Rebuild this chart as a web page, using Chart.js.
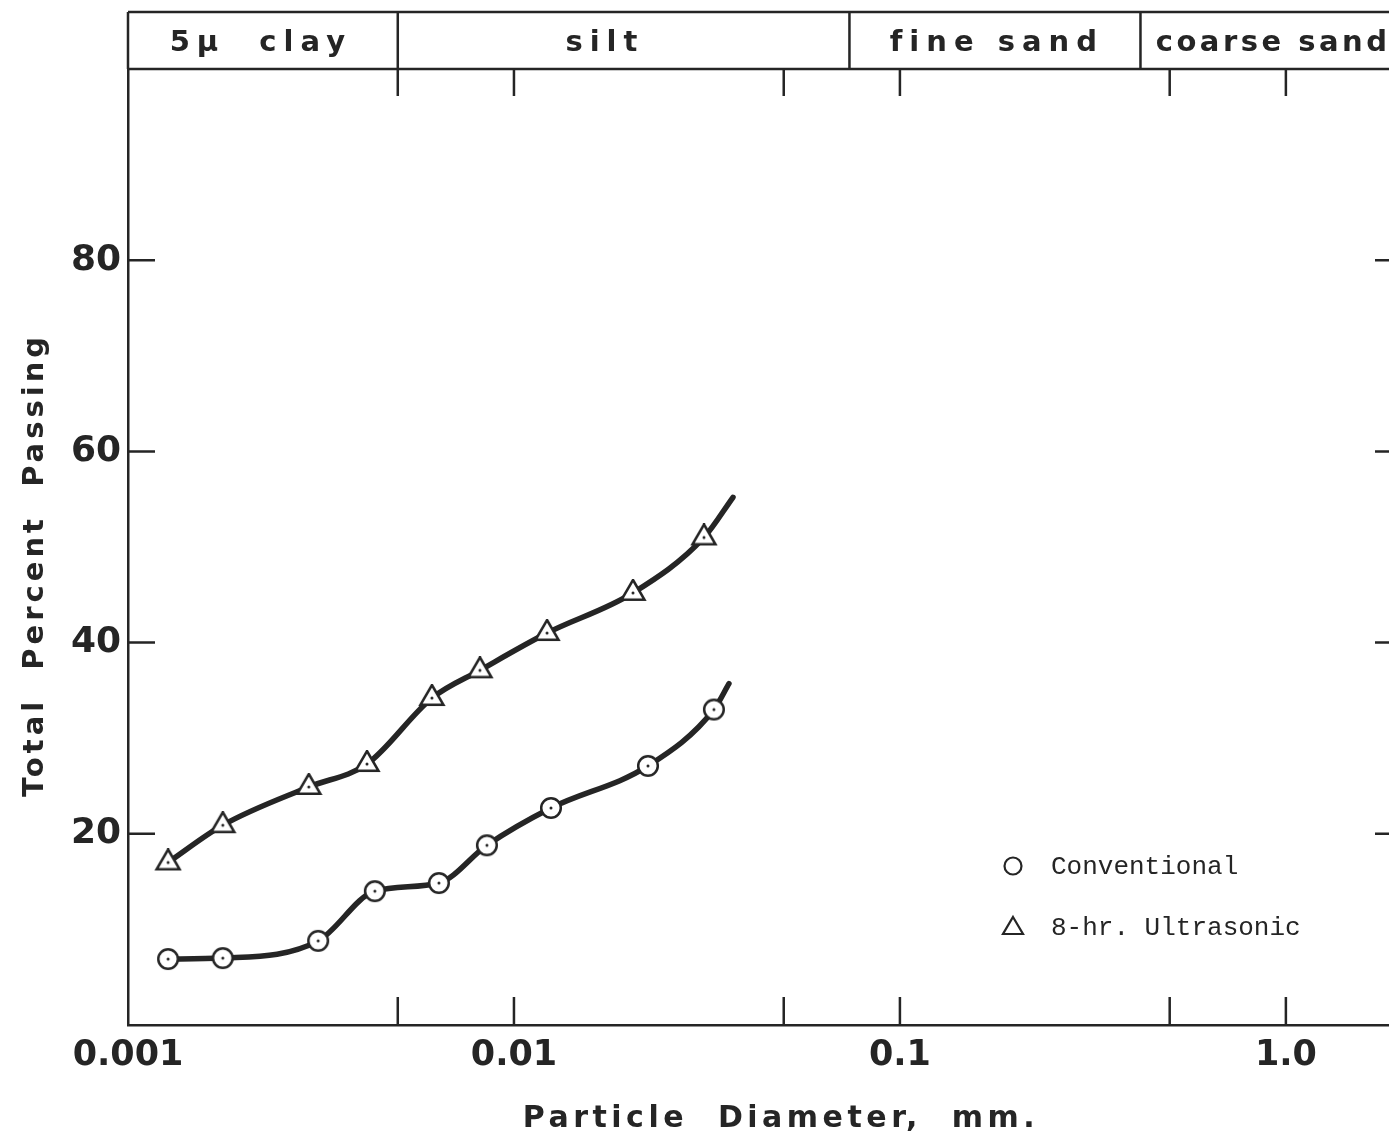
<!DOCTYPE html>
<html>
<head>
<meta charset="utf-8">
<script src="https://cdn.jsdelivr.net/npm/chart.js@4.4.1/dist/chart.umd.min.js"></script>
<style>
  html, body { margin: 0; padding: 0; background: #fff; }
  #wrap { width: 1389px; height: 1137px; }
</style>
</head>
<body>
<div id="wrap"><canvas id="grainChart" width="1389" height="1137"></canvas></div>
<script>
// particle diameter (mm) vs total percent passing
// last entry of each series is where the drawn line ends (no test point there)
const convDiameter = [0.00127, 0.00176, 0.00311, 0.00436, 0.00639, 0.00851, 0.01247, 0.02224, 0.03297, 0.03606]
const convPassing = [6.9, 7.0, 8.8, 14.0, 14.85, 18.8, 22.7, 27.1, 33.0, 35.7]
const ultraDiameter = [0.00127, 0.00176, 0.00294, 0.00416, 0.00613, 0.00816, 0.01218, 0.02034, 0.03107, 0.03694]
const ultraPassing = [17.0, 20.9, 24.9, 27.3, 34.2, 37.1, 41.0, 45.2, 51.0, 55.2]

const seriesNames = ['Conventional', '8-hr. Ultrasonic']

const xTickValues = [0.001, 0.01, 0.1, 1]
const xTickLabels = ['0.001', '0.01', '0.1', '1.0']
const xMarkValues = [0.005, 0.01, 0.05, 0.1, 0.5, 1]
const yTickValues = [20, 40, 60, 80]

// size classes across the top (limits in mm)
const bandLimits = [0.005, 0.074, 0.42]
const bandNames = ['5\u03bc  clay', 'silt', 'fine sand', 'coarse sand']

const ink = '#252525'
const boldFont = '"DejaVu Sans", Verdana, sans-serif'

function marker(shape) {
  const c = document.createElement('canvas')
  c.width = 28
  c.height = 28
  const g = c.getContext('2d')
  g.fillStyle = '#fff'
  g.strokeStyle = ink
  g.lineWidth = 2.5
  g.beginPath()
  if (shape === 'circle') {
    g.arc(14, 14, 9.8, 0, Math.PI * 2)
  } else {
    g.moveTo(14, 1)
    g.lineTo(25.5, 20.8)
    g.lineTo(2.5, 20.8)
    g.closePath()
  }
  g.fill()
  g.stroke()
  g.fillStyle = ink
  g.beginPath()
  g.arc(14, 14, 1.5, 0, Math.PI * 2)
  g.fill()
  return c
}

const pairs = (xs, ys) => xs.map((x, i) => ({ x: x, y: ys[i] }))
const lastHidden = (ctx) => ctx.dataIndex === ctx.dataset.data.length - 1 ? 0 : 10

const decorations = {
  id: 'decorations',
  beforeDraw(chart) {
    const { ctx, width, height } = chart
    ctx.save()
    ctx.fillStyle = '#fff'
    ctx.fillRect(0, 0, width, height)
    ctx.restore()
  },
  afterDraw(chart, args, opts) {
    const { ctx, chartArea: area } = chart
    const xs = chart.scales.x
    const ys = chart.scales.y
    ctx.save()
    ctx.strokeStyle = ink
    ctx.fillStyle = ink
    ctx.lineWidth = 2.5

    // band across the top
    const top = opts.bandTop
    ctx.beginPath()
    ctx.moveTo(area.left, top)
    ctx.lineTo(area.right, top)
    ctx.moveTo(area.left, area.top)
    ctx.lineTo(area.right, area.top)
    ctx.moveTo(area.left, top)
    ctx.lineTo(area.left, area.top)
    bandLimits.forEach(v => {
      const px = xs.getPixelForValue(v)
      ctx.moveTo(px, top)
      ctx.lineTo(px, area.top)
    })
    // inward tick marks, top and bottom
    xMarkValues.forEach(v => {
      const px = xs.getPixelForValue(v)
      ctx.moveTo(px, area.top)
      ctx.lineTo(px, area.top + 27)
      ctx.moveTo(px, area.bottom)
      ctx.lineTo(px, area.bottom - 28)
    })
    yTickValues.forEach(v => {
      const py = ys.getPixelForValue(v)
      ctx.moveTo(area.left, py)
      ctx.lineTo(area.left + 27, py)
      ctx.moveTo(area.right, py)
      ctx.lineTo(area.right - 14, py)
    })
    ctx.stroke()

    ctx.font = 'bold 29px ' + boldFont
    ctx.textBaseline = 'middle'
    const bandMid = (top + area.top) / 2 + 3
    bandNames.forEach((name, i) => {
      const lbl = opts.bandLabels[i]
      ctx.letterSpacing = lbl.spacing + 'px'
      ctx.textAlign = lbl.align
      ctx.fillText(name, xs.getPixelForValue(lbl.at) + (lbl.align === 'center' ? 3 : 0), bandMid)
    })

    // axis titles
    ctx.textAlign = 'center'
    ctx.font = 'bold 30px ' + boldFont
    ctx.letterSpacing = '4.5px'
    ctx.fillText('Particle  Diameter,  mm.', 781, 1119)
    ctx.save()
    ctx.translate(35, 565)
    ctx.rotate(-Math.PI / 2)
    ctx.font = 'bold 29px ' + boldFont
    ctx.letterSpacing = '4px'
    ctx.fillText('Total  Percent  Passing', 0, 0)
    ctx.restore()

    // legend
    ctx.letterSpacing = '0px'
    ctx.textAlign = 'left'
    ctx.font = '26px "Liberation Mono", "DejaVu Sans Mono", monospace'
    ctx.lineWidth = 2.2
    const lx = 1013
    const rows = [866, 927]
    ctx.beginPath()
    ctx.arc(lx, rows[0], 8.5, 0, Math.PI * 2)
    ctx.stroke()
    ctx.beginPath()
    ctx.moveTo(lx, rows[1] - 10)
    ctx.lineTo(lx + 10, rows[1] + 7)
    ctx.lineTo(lx - 10, rows[1] + 7)
    ctx.closePath()
    ctx.stroke()
    chart.data.datasets.forEach((ds, i) => {
      ctx.fillText(ds.label, 1051, rows[i] + 1)
    })
    ctx.restore()
  }
}

const ctx = document.getElementById('grainChart')
const grainChart = new Chart(ctx, {
  type: 'line',
  data: {
    datasets: [{
      label: seriesNames[0],
      data: pairs(convDiameter, convPassing),
      borderColor: ink,
      borderWidth: 5.5,
      borderCapStyle: 'round',
      cubicInterpolationMode: 'monotone',
      pointStyle: marker('circle'),
      pointRadius: lastHidden,
      fill: false
    }, {
      label: seriesNames[1],
      data: pairs(ultraDiameter, ultraPassing),
      borderColor: ink,
      borderWidth: 5.5,
      borderCapStyle: 'round',
      cubicInterpolationMode: 'monotone',
      pointStyle: marker('triangle'),
      pointRadius: lastHidden,
      fill: false
    }]
  },
  options: {
    responsive: false,
    animation: false,
    devicePixelRatio: 1,
    layout: { autoPadding: false, padding: { top: 69, right: 0, bottom: 0, left: 0 } },
    scales: {
      x: {
        type: 'logarithmic',
        min: 0.001,
        max: 1.85,
        grid: { display: false, drawTicks: false },
        border: { display: true, color: ink, width: 2.5 },
        afterBuildTicks: (scale) => { scale.ticks = xTickValues.map(v => ({ value: v })) },
        afterFit: (scale) => { scale.height = 112 },
        ticks: {
          autoSkip: false,
          maxRotation: 0,
          padding: 10,
          color: ink,
          font: { family: boldFont, size: 35, weight: 'bold' },
          callback: (v, i) => xTickLabels[i]
        }
      },
      y: {
        min: 0,
        max: 100,
        grid: { display: false, drawTicks: false },
        border: { display: true, color: ink, width: 2.5 },
        afterBuildTicks: (scale) => { scale.ticks = yTickValues.map(v => ({ value: v })) },
        afterFit: (scale) => { scale.width = 128 },
        ticks: {
          padding: 7,
          color: ink,
          font: { family: boldFont, size: 36, weight: 'bold' }
        }
      }
    },
    plugins: {
      legend: { display: false },
      tooltip: { enabled: false },
      decorations: {
        bandTop: 12,
        bandLabels: [
          { at: 0.00217, align: 'center', spacing: 7 },
          { at: 0.0169, align: 'center', spacing: 7 },
          { at: 0.1751, align: 'center', spacing: 7 },
          { at: 0.46, align: 'left', spacing: 3.5 }
        ]
      }
    }
  },
  plugins: [decorations]
})
</script>
</body>
</html>
